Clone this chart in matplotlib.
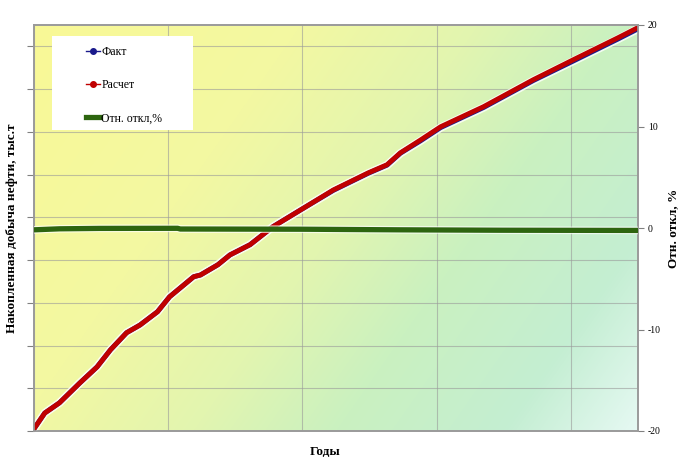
import numpy as np
import matplotlib
matplotlib.use("Agg")
import matplotlib.pyplot as plt
from matplotlib.lines import Line2D
from matplotlib.patches import Rectangle
import matplotlib.patheffects as pe

plt.rcParams["axes.unicode_minus"] = False

# ---- data ----
x_main = [0.0, 0.15, 0.8, 1.9, 3.4, 4.7, 5.7, 6.9, 7.9, 9.2, 10.1, 11.9, 12.4,
          13.7, 14.6, 16.1, 17.8, 19.9, 22.3, 24.9, 26.3, 27.3, 28.8, 30.3,
          33.5, 37.2, 40.2, 43.5, 45.0]
raschet = [0.5, 1.2, 4.2, 6.6, 11.2, 15.0, 19.0, 23.0, 24.8, 27.9, 31.4, 36.1, 36.5,
           38.9, 41.2, 43.6, 47.8, 51.8, 56.4, 60.4, 62.3, 65.1, 68.1, 71.2,
           75.9, 82.2, 86.9, 92.0, 94.4]
fakt = [0.5, 1.2, 4.2, 6.6, 11.2, 15.0, 19.0, 23.0, 24.8, 27.9, 31.4, 36.1, 36.5,
        38.9, 41.2, 43.6, 47.8, 51.8, 56.3, 60.3, 62.2, 65.0, 67.9, 71.0,
        75.7, 82.0, 86.6, 91.7, 94.1]
x_dev = [0.0, 1.9, 4.9, 10.7, 10.9, 19.9, 27.3, 34.8, 45.0]
otkl = [-0.18, -0.08, -0.04, -0.03, -0.10, -0.12, -0.18, -0.22, -0.24]

right_ticks = [-20, -10, 0, 10, 20]
left_ticks = [0, 10, 20, 30, 40, 50, 60, 70, 80, 90]
x_grid = [0, 10, 20, 30, 40]

label_left = "Накопленная добыча нефти, тыс.т"
label_right = "Отн. откл, %"
label_x = "Годы"
legend_labels = ["Факт", "Расчет", "Отн. откл,%"]

# ---- figure ----
W, H = 683, 467
fig = plt.figure(figsize=(W / 100, H / 100), dpi=100)
ax = fig.add_axes([34 / W, (H - 431) / H, (638 - 34) / W, (431 - 25) / H])

# background gradient (style)
ny, nx = 200, 300
gx, gy = np.meshgrid(np.linspace(0, 1, nx), np.linspace(0, 1, ny))
s = 0.68 * gx + 0.32 * gy  # gy = 0 at top (imshow origin upper)
stops = np.array([0.0, 0.3, 0.5, 0.66, 0.85, 1.0])
cols = np.array([
    [249, 249, 150],
    [243, 248, 162],
    [226, 245, 176],
    [202, 241, 192],
    [196, 238, 210],
    [230, 249, 243],
]) / 255.0
img = np.zeros((ny, nx, 3))
for c in range(3):
    img[..., c] = np.interp(s, stops, cols[:, c])
ax.imshow(img, extent=[0, 1, 0, 1], transform=ax.transAxes, aspect="auto",
          zorder=0, interpolation="bilinear")

ax.set_xlim(0, 45)
ax.set_ylim(0, 95)
ax.set_xticks(x_grid)
ax.set_yticks(left_ticks)
ax.tick_params(axis="x", length=0, labelbottom=False)
ax.tick_params(axis="y", direction="out", length=5, color="#808080", labelleft=False)
ax.grid(True, color="#9a9a9a", linewidth=0.8, alpha=0.6, zorder=1)
ax.set_axisbelow(True)
for sp in ax.spines.values():
    sp.set_color("#9a9a9a")
    sp.set_linewidth(1.2)

halo = [pe.withStroke(linewidth=6.0, foreground="white", alpha=0.8)]
ax.plot(x_main, fakt, color="#1a1a8c", linewidth=3.5, zorder=3,
        solid_capstyle="round", path_effects=halo)
ax.plot(x_main, raschet, color="#c00000", linewidth=3.5, zorder=4,
        solid_capstyle="round")

ax2 = ax.twinx()
ax2.set_ylim(-20, 20)
ax2.set_yticks(right_ticks)
ax2.plot(x_dev, otkl, color="#2d650f", linewidth=3.8, zorder=5,
         solid_capstyle="round",
         path_effects=[pe.withStroke(linewidth=5.5, foreground="white", alpha=0.7)])
ax2.tick_params(axis="y", direction="out", length=4, color="#808080", pad=3)
for lab in ax2.get_yticklabels():
    lab.set_fontfamily("Liberation Serif")
    lab.set_fontsize(7)
for sp in ax2.spines.values():
    sp.set_color("#9a9a9a")
    sp.set_linewidth(1.2)

# axis labels
fig.text(12 / W, 1 - 228 / H, label_left, rotation=90, ha="center", va="center",
         fontfamily="Liberation Serif", fontweight="bold", fontsize=9.5)
fig.text(673 / W, 1 - 228 / H, label_right, rotation=90, ha="center", va="center",
         fontfamily="Liberation Serif", fontweight="bold", fontsize=9.5)
fig.text(325 / W, 1 - 452 / H, label_x, ha="center", va="center",
         fontfamily="Liberation Serif", fontweight="bold", fontsize=9.5)

# legend box + legend
box = Rectangle(((52 - 34) / 604, (431 - 130) / 406), (193 - 52) / 604, (130 - 36) / 406,
                transform=ax2.transAxes, facecolor="white", edgecolor="none", zorder=6)
ax2.add_patch(box)
handles = [
    Line2D([], [], color="#1a1a8c", linewidth=1.0, marker="o", markersize=4),
    Line2D([], [], color="#c00000", linewidth=1.0, marker="o", markersize=4),
    Line2D([], [], color="#2d650f", linewidth=3.8),
]
leg = ax2.legend(handles, legend_labels, loc="upper left",
                 bbox_to_anchor=((86 - 34) / 604, (431 - 46) / 406),
                 frameon=False, handlelength=1.2, handletextpad=0.1,
                 labelspacing=1.8, borderpad=0, borderaxespad=0,
                 prop={"family": "Liberation Serif", "size": 8.5})
leg.set_zorder(7)

fig.savefig("out.png", dpi=100)
